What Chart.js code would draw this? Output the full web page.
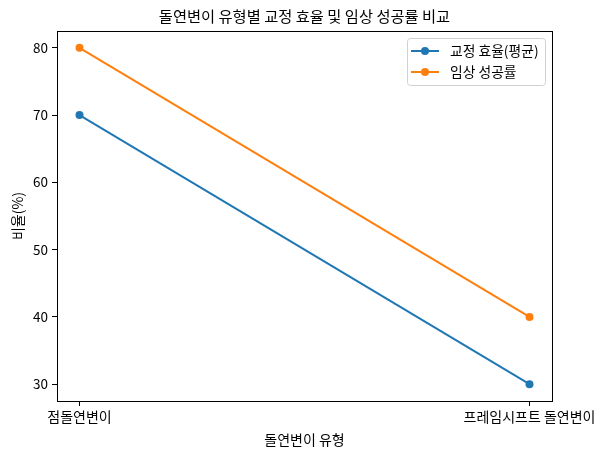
<!DOCTYPE html>
<html>
<head>
<meta charset="utf-8">
<script src="https://cdn.jsdelivr.net/npm/chart.js@4"></script>
<style>
  html, body { margin: 0; padding: 0; background: #fff; }
  #wrap { width: 604px; height: 454px; }
</style>
</head>
<body>
<div id="wrap"><canvas id="myChart" width="604" height="454"></canvas></div>
<script>
const categories = ['점돌연변이', '프레임시프트 돌연변이'];
const seriesLabels = ['교정 효율(평균)', '임상 성공률'];
const correctionEfficiency = [70, 30];
const clinicalSuccess = [80, 40];
const yTicks = [30, 40, 50, 60, 70, 80];
const chartTitle = '돌연변이 유형별 교정 효율 및 임상 성공률 비교';

const FONT = "'Noto Sans CJK KR', 'Noto Sans', sans-serif";
const colors = ['#1f77b4', '#ff7f0e'];

function toPoints(values) {
  return values.map((v, i) => ({ x: i, y: v }));
}

// titulo, marco y leyenda al estilo matplotlib
const framePlugin = {
  id: 'frame',
  afterDraw(chart) {
    const ctx = chart.ctx;
    const a = chart.chartArea;
    ctx.save();
    ctx.strokeStyle = '#000';
    ctx.lineWidth = 1;
    ctx.strokeRect(Math.round(a.left) + 0.5, Math.round(a.top) + 0.5,
      Math.round(a.right - a.left), Math.round(a.bottom - a.top));

    ctx.fillStyle = '#000';
    ctx.font = '15.3px ' + FONT;
    ctx.textAlign = 'center';
    ctx.textBaseline = 'middle';
    ctx.fillText(chartTitle, (a.left + a.right) / 2, 16);

    // leyenda
    const boxW = 138, boxH = 47;
    const bx = a.right - 7 - boxW, by = a.top + 7;
    ctx.beginPath();
    ctx.roundRect(bx + 0.5, by + 0.5, boxW, boxH, 3);
    ctx.fillStyle = 'rgba(255,255,255,0.8)';
    ctx.fill();
    ctx.strokeStyle = '#d0d0d0';
    ctx.stroke();
    ctx.font = '13.8px ' + FONT;
    ctx.textAlign = 'left';
    chart.data.datasets.forEach((ds, i) => {
      const y = by + 13 + i * 21;
      ctx.strokeStyle = ds.borderColor;
      ctx.lineWidth = 2;
      ctx.beginPath();
      ctx.moveTo(bx + 4, y);
      ctx.lineTo(bx + 32, y);
      ctx.stroke();
      ctx.fillStyle = ds.backgroundColor;
      ctx.beginPath();
      ctx.arc(bx + 18, y, 4, 0, Math.PI * 2);
      ctx.fill();
      ctx.fillStyle = '#000';
      ctx.fillText(ds.label, bx + 43, y);
    });
    ctx.restore();
  }
};

const data = {
  datasets: [
    {
      label: seriesLabels[0],
      data: toPoints(correctionEfficiency),
      borderColor: colors[0],
      backgroundColor: colors[0],
      borderWidth: 2,
      pointRadius: 4,
      pointHoverRadius: 4,
      pointBorderWidth: 0
    },
    {
      label: seriesLabels[1],
      data: toPoints(clinicalSuccess),
      borderColor: colors[1],
      backgroundColor: colors[1],
      borderWidth: 2,
      pointRadius: 4,
      pointHoverRadius: 4,
      pointBorderWidth: 0
    }
  ]
};

const config = {
  type: 'line',
  data: data,
  plugins: [framePlugin],
  options: {
    responsive: false,
    animation: false,
    events: [],
    layout: { padding: { left: 0, right: 52, top: 31, bottom: 6 } },
    plugins: {
      legend: { display: false },
      title: { display: false },
      tooltip: { enabled: false }
    },
    scales: {
      x: {
        type: 'linear',
        min: -0.05,
        max: 1.05,
        afterBuildTicks: s => { s.ticks = categories.map((c, i) => ({ value: i })); },
        afterFit: s => { s.height = 47; },
        ticks: {
          autoSkip: false,
          maxRotation: 0,
          padding: 2,
          color: '#000',
          font: { family: FONT, size: 14 },
          callback: v => categories[v]
        },
        grid: { drawOnChartArea: false, drawTicks: true, tickLength: 5, tickColor: '#000' },
        border: { display: true, color: '#000' },
        title: {
          display: true,
          text: '돌연변이 유형',
          color: '#000',
          font: { family: FONT, size: 14 },
          padding: 0
        }
      },
      y: {
        min: 27.5,
        max: 82.5,
        afterBuildTicks: s => { s.ticks = yTicks.map(v => ({ value: v })); },
        afterFit: s => { s.width = 57; },
        ticks: {
          padding: 4,
          color: '#000',
          font: { family: FONT, size: 13.5 }
        },
        grid: { drawOnChartArea: false, drawTicks: true, tickLength: 5, tickColor: '#000' },
        border: { display: true, color: '#000' },
        title: {
          display: true,
          text: '비율(%)',
          color: '#000',
          font: { family: FONT, size: 14 },
          padding: { top: 9 }
        }
      }
    }
  }
};

const myChart = new Chart(document.getElementById('myChart'), config);
</script>
</body>
</html>
